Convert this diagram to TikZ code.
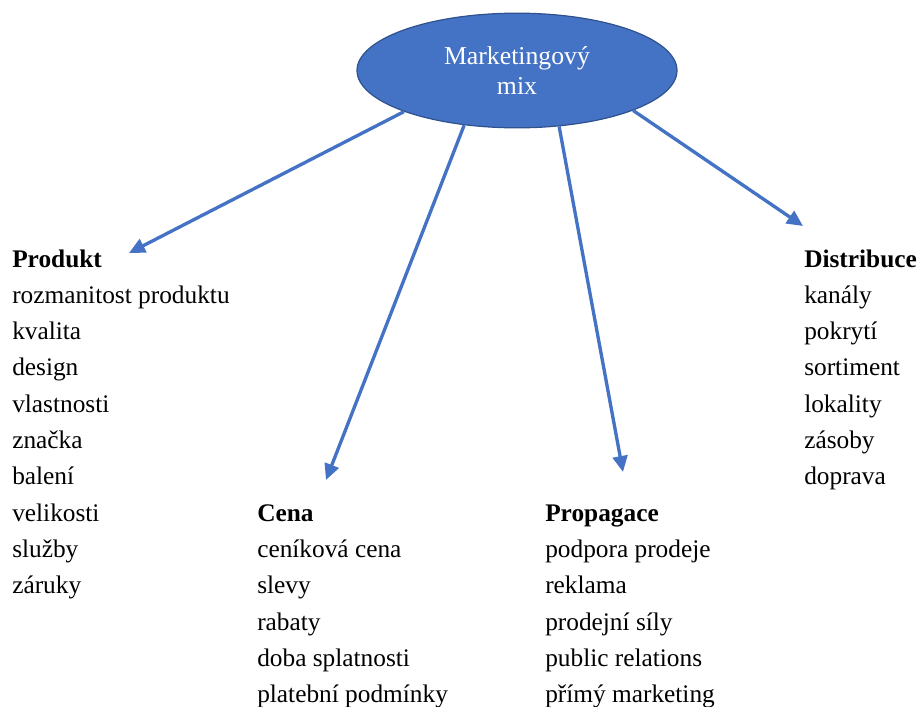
\documentclass[tikz,border=0pt]{standalone}
\usepackage{fontspec}
\setmainfont{Liberation Serif}
\usetikzlibrary{shapes.geometric,arrows.meta}
\definecolor{mixblue}{HTML}{4472C4}
\definecolor{mixedge}{HTML}{2F528F}

\begin{document}
\begin{tikzpicture}[x=0.75pt,y=-0.75pt,
  hub/.style={ellipse, fill=mixblue, draw=mixedge, line width=0.9pt,
    minimum width=240pt, minimum height=86pt, inner sep=0pt,
    text=white, align=center, font=\fontsize{19.3}{22.5}\selectfont},
  head/.style={anchor=base west, inner sep=0pt, font=\fontsize{19}{22}\selectfont\bfseries},
  item/.style={anchor=base west, inner sep=0pt, font=\fontsize{19}{22}\selectfont},
  conn/.style={draw=mixblue, line width=2.5pt, -{Triangle[length=12pt,width=11pt]}}]

\useasboundingbox (0,0) rectangle (922,707);

% central ellipse
\node[hub] (mix) at (517,70.5) {Marketingový\\mix};

% the four groups: headings
\node[head] (produkt)    at (12,267)  {Produkt};
\node[head] (distribuce) at (804,267) {Distribuce};
\node[head] (cena)       at (257,{267+36.3*7}) {Cena};
\node[head] (propagace)  at (545,{267+36.3*7}) {Propagace};

% the items below each heading
\foreach \t [count=\i] in {rozmanitost produktu, kvalita, design, vlastnosti,
    značka, balení, velikosti, služby, záruky}
  \node[item] (prod\i) at (12,{267+36.3*\i}) {\t};
\foreach \t [count=\i] in {kanály, pokrytí, sortiment, lokality, zásoby, doprava}
  \node[item] (dist\i) at (804,{267+36.3*\i}) {\t};
\foreach \t [count=\i from 8] in {ceníková cena, slevy, rabaty, doba splatnosti,
    platební podmínky}
  \node[item] (cena\i) at (257,{267+36.3*\i}) {\t};
\foreach \t [count=\i from 8] in {podpora prodeje, reklama, prodejní síly,
    public relations, přímý marketing}
  \node[item] (prop\i) at (545,{267+36.3*\i}) {\t};

% arrow tips above the headings
\coordinate (tipProdukt)    at (129,253);
\coordinate (tipCena)       at (326,480);
\coordinate (tipPropagace)  at (623,472);
\coordinate (tipDistribuce) at (803,226);

\draw[conn] (mix.-160.2) -- (tipProdukt);
\draw[conn] (mix.-134.7) -- (tipCena);
\draw[conn] (mix.-53.5)  -- (tipPropagace);
\draw[conn] (mix.-19.8)  -- (tipDistribuce);
\end{tikzpicture}
\end{document}
